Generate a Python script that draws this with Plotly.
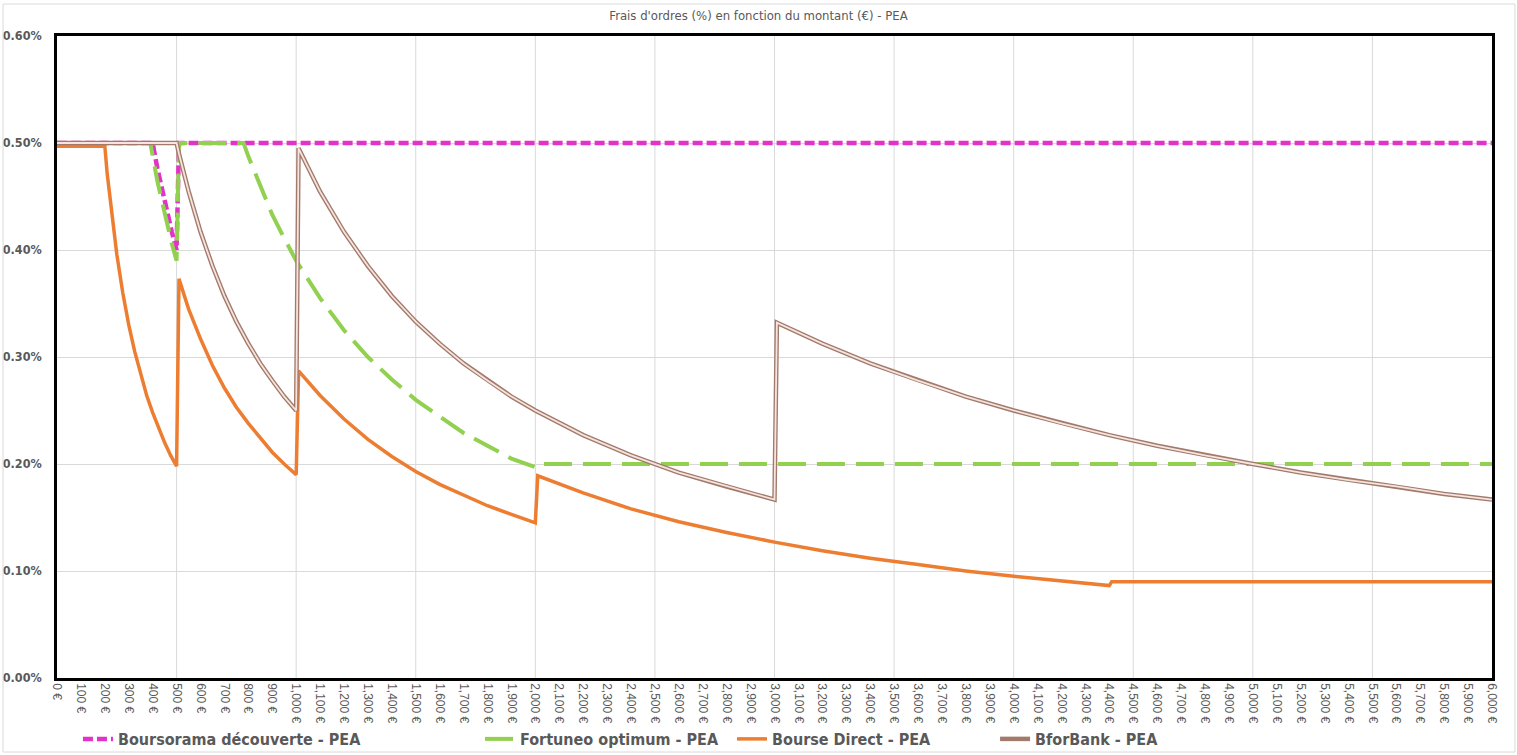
import plotly.graph_objects as go

# Frais d'ordres (%), par montant (€)
boursorama_x = [0, 100, 200, 300, 400, 420, 450, 480, 500, 510, 1000, 2000, 3000, 4000, 5000, 6000]
boursorama_y = [0.50, 0.50, 0.50, 0.50, 0.50, 0.476, 0.444, 0.417, 0.40, 0.50, 0.50, 0.50, 0.50, 0.50, 0.50, 0.50]

fortuneo_x = [0, 100, 200, 300, 390, 420, 450, 480, 500, 510, 600, 700, 780, 800, 850, 900, 950, 1000,
              1100, 1200, 1300, 1400, 1500, 1600, 1700, 1800, 1900, 2000, 2010, 3000, 4000, 5000, 6000]
fortuneo_y = [0.50, 0.50, 0.50, 0.50, 0.50, 0.464, 0.433, 0.406, 0.39, 0.50, 0.50, 0.50, 0.50, 0.4875, 0.459,
              0.433, 0.411, 0.39, 0.355, 0.325, 0.30, 0.279, 0.26, 0.244, 0.229, 0.217, 0.205, 0.197,
              0.20, 0.20, 0.20, 0.20, 0.20]

bourse_direct_x = [0, 100, 200, 210, 230, 250, 275, 300, 325, 350, 375, 400, 425, 450, 475, 500,
                   510, 550, 600, 650, 700, 750, 800, 850, 900, 950, 1000,
                   1010, 1100, 1200, 1300, 1400, 1500, 1600, 1700, 1800, 1900, 2000,
                   2010, 2200, 2400, 2600, 2800, 3000, 3200, 3400, 3600, 3800, 4000, 4200, 4400,
                   4410, 5000, 6000]
bourse_direct_y = [0.497, 0.497, 0.497, 0.471, 0.430, 0.396, 0.360, 0.330, 0.305, 0.283, 0.264, 0.248,
                   0.233, 0.220, 0.208, 0.198,
                   0.373, 0.345, 0.317, 0.292, 0.271, 0.253, 0.238, 0.224, 0.211, 0.200, 0.190,
                   0.287, 0.264, 0.242, 0.223, 0.207, 0.193, 0.181, 0.171, 0.161, 0.153, 0.145,
                   0.189, 0.173, 0.158, 0.146, 0.136, 0.127, 0.119, 0.112, 0.106, 0.100, 0.095,
                   0.0905, 0.0864,
                   0.090, 0.090, 0.090]

bforbank_x = [0, 100, 200, 300, 400, 500, 510, 550, 600, 650, 700, 750, 800, 850, 900, 950, 1000,
              1010, 1100, 1200, 1300, 1400, 1500, 1600, 1700, 1800, 1900, 2000, 2200, 2400, 2600, 2800, 3000,
              3010, 3200, 3400, 3600, 3800, 4000, 4200, 4400, 4600, 4800, 5000, 5200, 5400, 5600, 5800, 6000]
bforbank_y = [0.50, 0.50, 0.50, 0.50, 0.50, 0.50, 0.490, 0.455, 0.417, 0.385, 0.357, 0.333, 0.3125, 0.294,
              0.278, 0.263, 0.25,
              0.495, 0.4545, 0.417, 0.385, 0.357, 0.333, 0.3125, 0.294, 0.278, 0.263, 0.25, 0.227, 0.208,
              0.192, 0.179, 0.1667,
              0.332, 0.3125, 0.294, 0.278, 0.263, 0.25, 0.238, 0.227, 0.217, 0.208, 0.20, 0.192, 0.185,
              0.179, 0.172, 0.1667]

x_ticks = list(range(0, 6001, 100))
x_labels = [f"{v:,} €" for v in x_ticks]
y_ticks = [0.0, 0.1, 0.2, 0.3, 0.4, 0.5, 0.6]
y_labels = [f"{v:.2f}%" for v in y_ticks]

GREY = "#595959"
GRID = "#D9D9D9"
BOLD = "Liberation Sans Narrow, Arial Narrow, DejaVu Sans Condensed, Arial"

fig = go.Figure()

fig.add_trace(go.Scatter(x=boursorama_x, y=boursorama_y, mode="lines", name="Boursorama découverte - PEA",
                         line=dict(color="#E233C8", width=4.5, dash="10px,4px"), legend="legend"))
fig.add_trace(go.Scatter(x=fortuneo_x, y=fortuneo_y, mode="lines", name="Fortuneo optimum - PEA",
                         line=dict(color="#92D050", width=4, dash="28px,11px"), legend="legend2"))
fig.add_trace(go.Scatter(x=bourse_direct_x, y=bourse_direct_y, mode="lines", name="Bourse Direct - PEA",
                         line=dict(color="#ED7D31", width=3.5), legend="legend3"))
# BforBank : ligne double (contour brun, interieur rose pale)
fig.add_trace(go.Scatter(x=bforbank_x, y=bforbank_y, mode="lines", name="BforBank - PEA",
                         line=dict(color="#A27A6C", width=4.5), legend="legend4"))
fig.add_trace(go.Scatter(x=bforbank_x, y=bforbank_y, mode="lines", showlegend=False, hoverinfo="skip",
                         line=dict(color="#F6E4DE", width=1.8)))

# quadrillage vertical tous les 500 €
for gx in range(500, 6000, 500):
    fig.add_shape(type="line", xref="x", yref="paper", x0=gx, x1=gx, y0=0, y1=1,
                  line=dict(color=GRID, width=1), layer="below")

# bordure de la zone du graphique
fig.add_shape(type="rect", xref="paper", yref="paper", x0=-0.0376, x1=1.016, y0=-0.1153, y1=1.0498,
              line=dict(color=GRID, width=1))

legend_style = dict(orientation="h", yanchor="middle", y=-0.095, xanchor="left",
                    font=dict(family=BOLD, size=16, color=GREY, weight="bold"),
                    bgcolor="rgba(0,0,0,0)", itemwidth=30)

fig.update_layout(
    width=1517, height=755,
    margin=dict(l=57, r=25, t=36, b=77, autoexpand=False),
    paper_bgcolor="white", plot_bgcolor="white",
    title=dict(text="Frais d'ordres (%) en fonction du montant (€) - PEA", x=0.5, xanchor="center",
               y=0.979, yanchor="middle", font=dict(family=BOLD, size=13, color=GREY)),
    legend=dict(legend_style, x=0.0146),
    legend2=dict(legend_style, x=0.2948),
    legend3=dict(legend_style, x=0.4704),
    legend4=dict(legend_style, x=0.6537),
    xaxis=dict(range=[0, 6000], tickvals=x_ticks, ticktext=x_labels, tickangle=90,
               tickfont=dict(family="Liberation Sans, Arial", size=12, color=GREY),
               showgrid=False, zeroline=False, ticks="", automargin=False,
               showline=True, linecolor="black", linewidth=2.5, mirror=True),
    yaxis=dict(range=[0, 0.6], tickvals=y_ticks, ticktext=y_labels,
               tickfont=dict(family=BOLD, size=12.5, color=GREY, weight="bold"),
               ticklabelstandoff=10,
               showgrid=True, gridcolor=GRID, gridwidth=1, zeroline=False, ticks="", automargin=False,
               showline=True, linecolor="black", linewidth=2.5, mirror=True),
)

# pas de marge autour de la page pour caler le graphique sur la fenetre
fig.write_html("out.html", config={"displayModeBar": False},
               post_script="document.body.style.margin='0';")
